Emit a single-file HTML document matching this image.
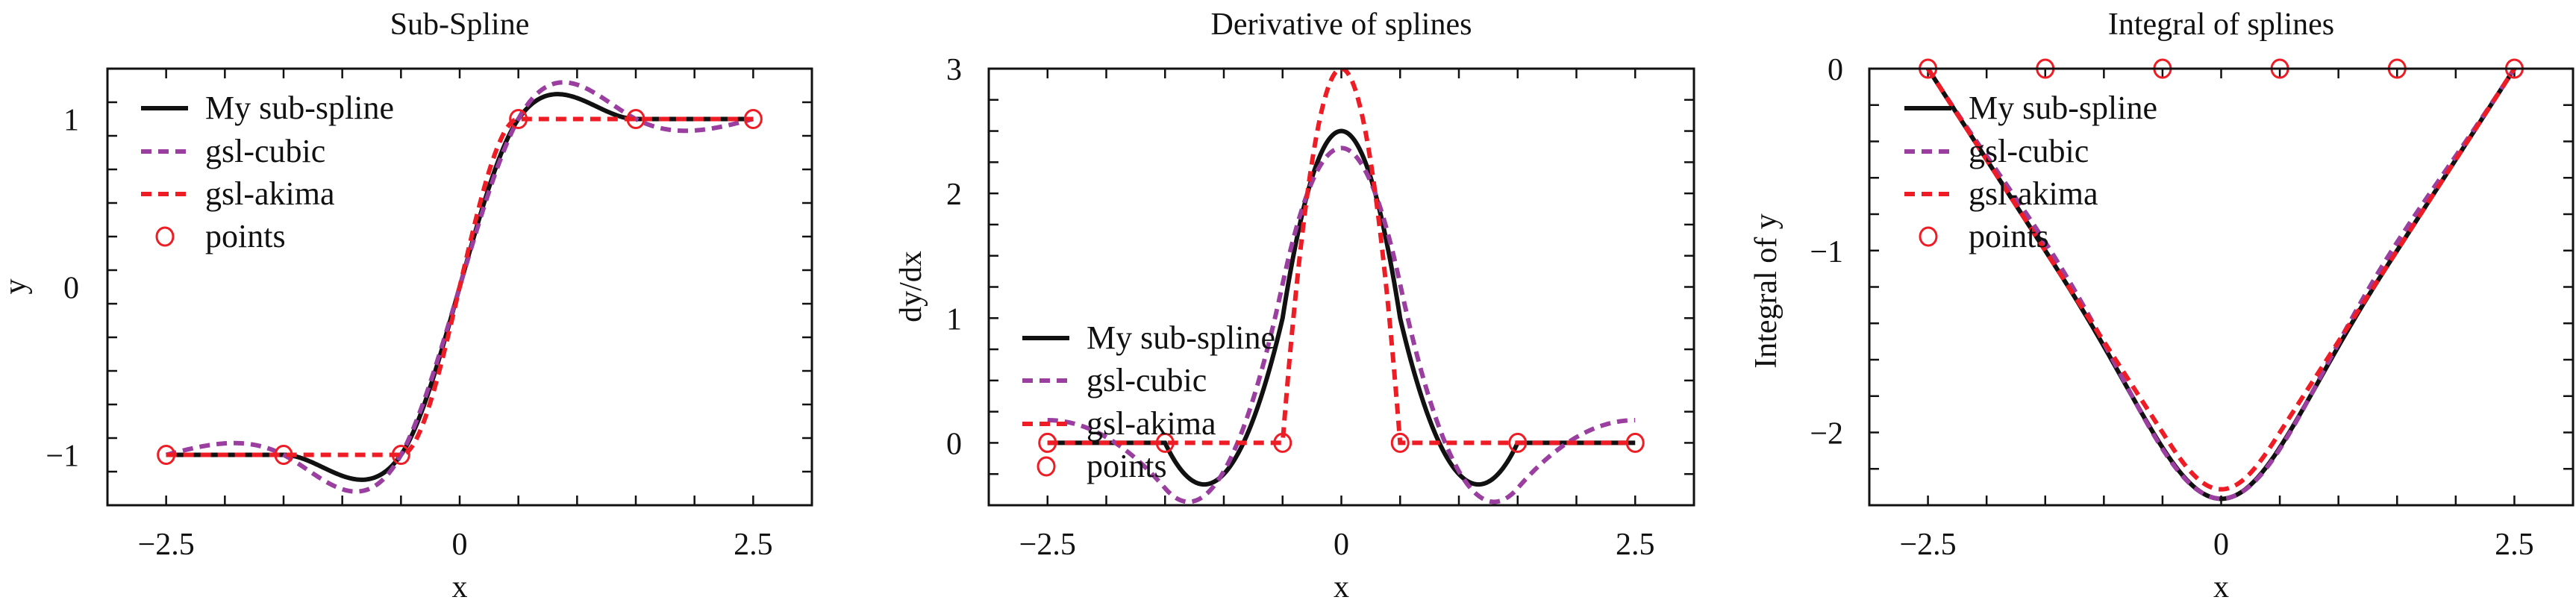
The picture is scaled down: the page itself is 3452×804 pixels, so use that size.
<!DOCTYPE html>
<html><head><meta charset="utf-8"><style>
html,body{margin:0;padding:0;background:#fff;}
svg{display:block;font-family:"Liberation Serif",serif;}
</style></head><body>
<svg id="chart" width="3452" height="804" viewBox="0 0 3452 804" xmlns="http://www.w3.org/2000/svg"></svg>
<script>
// ---- data ----
const knotsX = [-2.5, -1.5, -0.5, 0.5, 1.5, 2.5];
const knotsY = [-1, -1, -1, 1, 1, 1];
const subSplineSlopes = [0, 0, 1, 1, 0, 0];
const seriesNames = ["My sub-spline", "gsl-cubic", "gsl-akima", "points"];
const xTicks = [-2.5, 0, 2.5];
const xTickLabels = ["−2.5", "0", "2.5"];
const yTicks1 = [-1, 0, 1];
const yTickLabels1 = ["−1", "0", "1"];
const yTicks2 = [0, 1, 2, 3];
const yTickLabels2 = ["0", "1", "2", "3"];
const yTicks3 = [-2, -1, 0];
const yTickLabels3 = ["−2", "−1", "0"];

const NS = "http://www.w3.org/2000/svg";
const svg = document.getElementById('chart');
function mk(tag, attrs, parent) {
  const e = document.createElementNS(NS, tag);
  for (const k in attrs) e.setAttribute(k, attrs[k]);
  (parent || svg).appendChild(e);
  return e;
}

function naturalSlopes(X, Y) {
  const n = X.length; const M = new Array(n).fill(0);
  const h = []; for (let i = 0; i < n - 1; i++) h.push(X[i + 1] - X[i]);
  const a = [], b = [], c = [], d = [];
  for (let i = 1; i < n - 1; i++) {
    a.push(h[i - 1]); b.push(2 * (h[i - 1] + h[i])); c.push(h[i]);
    d.push(6 * ((Y[i + 1] - Y[i]) / h[i] - (Y[i] - Y[i - 1]) / h[i - 1]));
  }
  const m = b.length;
  for (let i = 1; i < m; i++) { const w = a[i] / b[i - 1]; b[i] -= w * c[i - 1]; d[i] -= w * d[i - 1]; }
  const sol = new Array(m);
  for (let i = m - 1; i >= 0; i--) sol[i] = (d[i] - (i < m - 1 ? c[i] * sol[i + 1] : 0)) / b[i];
  for (let i = 0; i < m; i++) M[i + 1] = sol[i];
  const s = [];
  for (let i = 0; i < n; i++) {
    if (i < n - 1) s.push((Y[i + 1] - Y[i]) / h[i] - h[i] * (2 * M[i] + M[i + 1]) / 6);
    else s.push((Y[i] - Y[i - 1]) / h[i - 1] + h[i - 1] * (M[i - 1] + 2 * M[i]) / 6);
  }
  return s;
}
function akimaSlopes(X, Y) {
  const n = X.length; const m = {};
  for (let i = 0; i < n - 1; i++) m[i] = (Y[i + 1] - Y[i]) / (X[i + 1] - X[i]);
  m[-1] = 2 * m[0] - m[1]; m[-2] = 2 * m[-1] - m[0];
  m[n - 1] = 2 * m[n - 2] - m[n - 3]; m[n] = 2 * m[n - 1] - m[n - 2];
  const s = [];
  for (let i = 0; i < n; i++) {
    const w1 = Math.abs(m[i + 1] - m[i]), w2 = Math.abs(m[i - 1] - m[i - 2]);
    s.push(w1 + w2 === 0 ? 0.5 * (m[i - 1] + m[i]) : (w1 * m[i - 1] + w2 * m[i]) / (w1 + w2));
  }
  return s;
}
function seg(X, x) { let i = 0; while (i < X.length - 2 && x > X[i + 1]) i++; return i; }
function hermite(X, Y, S, x) {
  const i = seg(X, x), h = X[i + 1] - X[i], t = (x - X[i]) / h;
  return (2*t*t*t-3*t*t+1)*Y[i] + (t*t*t-2*t*t+t)*h*S[i] + (-2*t*t*t+3*t*t)*Y[i+1] + (t*t*t-t*t)*h*S[i+1];
}
function hermiteD(X, Y, S, x) {
  const i = seg(X, x), h = X[i + 1] - X[i], t = (x - X[i]) / h;
  return (6*t*t-6*t)*(Y[i]-Y[i+1])/h + (3*t*t-4*t+1)*S[i] + (3*t*t-2*t)*S[i+1];
}
function segInt(X, Y, S, i, t) {
  const h = X[i + 1] - X[i];
  return h * (Y[i]*(t - t*t*t + t*t*t*t/2) + h*S[i]*(t*t/2 - 2*t*t*t/3 + t*t*t*t/4)
    + Y[i+1]*(t*t*t - t*t*t*t/2) + h*S[i+1]*(t*t*t*t/4 - t*t*t/3));
}
function hermiteI(X, Y, S, x) {
  const i = seg(X, x); let acc = 0;
  for (let k = 0; k < i; k++) acc += segInt(X, Y, S, k, 1);
  return acc + segInt(X, Y, S, i, (x - X[i]) / (X[i + 1] - X[i]));
}

const slopeSets = [subSplineSlopes, naturalSlopes(knotsX, knotsY), akimaSlopes(knotsX, knotsY)];
const styles = [
  {stroke: "#111", dash: null, w: 6},
  {stroke: "#9a3fa0", dash: "14,9", w: 6},
  {stroke: "#ee1c25", dash: "14,9", w: 6}
];

const panels = [
  {name: "sub-spline", title: "Sub-Spline", x0: 144, x1: 1088, y0: 92, y1: 677, ymin: -1.3, ymax: 1.3,
   yTicks: yTicks1, yLabels: yTickLabels1, yMinor: 0.2, ylab: "y", ylabX: 22, ylabY: 384, tickRight: 106,
   fn: hermite, pointsY: knotsY, legX: 189, legY: [145, 203, 260, 317]},
  {name: "derivative", title: "Derivative of splines", x0: 1325, x1: 2270, y0: 92, y1: 677, ymin: -0.5, ymax: 3,
   yTicks: yTicks2, yLabels: yTickLabels2, yMinor: 0.25, ylab: "dy/dx", ylabX: 1222, ylabY: 384, tickRight: 1289,
   fn: hermiteD, pointsY: knotsX.map(() => 0), legX: 1370, legY: [453, 510, 568, 625]},
  {name: "integral", title: "Integral of splines", x0: 2505, x1: 3448, y0: 92, y1: 677, ymin: -2.4, ymax: 0,
   yTicks: yTicks3, yLabels: yTickLabels3, yMinor: 0.2, ylab: "Integral of y", ylabX: 2368, ylabY: 390, tickRight: 2470,
   fn: hermiteI, pointsY: knotsX.map(() => 0), legX: 2552, legY: [145, 203, 260, 317]}
];

panels.forEach(p => {
  const g = mk('g', {});
  
  
  const sx = v => p.x0 + (v - (-3)) / 6 * (p.x1 - p.x0);
  const sy = v => p.y1 - (v - p.ymin) / (p.ymax - p.ymin) * (p.y1 - p.y0);
  const cx = (p.x0 + p.x1) / 2;
  const t = mk('text', {x: cx, y: 46, 'font-size': 42, 'text-anchor': 'middle', fill: '#111'}, g);
  t.textContent = p.title;
  
  
  const tk = mk('g', {stroke: '#111', 'stroke-width': 2.5}, g);
  for (let v = -3; v <= 3.001; v += 0.5) {
    const x = sx(v), L = 13;
    mk('line', {x1: x, y1: p.y1, x2: x, y2: p.y1 - L}, tk);
    mk('line', {x1: x, y1: p.y0, x2: x, y2: p.y0 + L}, tk);
  }
  for (let v = p.ymin; v <= p.ymax + 1e-6; v += p.yMinor) {
    const y = sy(v);
    mk('line', {x1: p.x0, y1: y, x2: p.x0 + 13, y2: y}, tk);
    mk('line', {x1: p.x1, y1: y, x2: p.x1 - 13, y2: y}, tk);
  }
  xTicks.forEach((v, i) => {
    const e = mk('text', {x: sx(v), y: 743, 'font-size': 42, 'text-anchor': 'middle', fill: '#111'}, g);
    e.textContent = xTickLabels[i];
    
    
  });
  p.yTicks.forEach((v, i) => {
    const e = mk('text', {x: p.tickRight, y: sy(v) + 15, 'font-size': 42, 'text-anchor': 'end', fill: '#111'}, g);
    e.textContent = p.yLabels[i];
    
    
  });
  const xl = mk('text', {x: cx, y: 800, 'font-size': 42, 'text-anchor': 'middle', fill: '#111'}, g);
  xl.textContent = 'x';
  
  
  const yl = mk('text', {x: 0, y: 0, 'font-size': 42, 'text-anchor': 'middle', fill: '#111',
    transform: `translate(${p.ylabX + 12},${p.ylabY}) rotate(-90)`}, g);
  yl.textContent = p.ylab;
  
  
  const clip = mk('clipPath', {id: 'clip-' + p.name}, g);
  mk('rect', {x: p.x0, y: p.y0, width: p.x1 - p.x0, height: p.y1 - p.y0}, clip);
  slopeSets.forEach((S, k) => {
    let d = '';
    const N = 400;
    for (let j = 0; j <= N; j++) {
      const x = knotsX[0] + (knotsX[knotsX.length - 1] - knotsX[0]) * j / N;
      const y = p.fn(knotsX, knotsY, S, x);
      d += (j ? 'L' : 'M') + sx(x).toFixed(2) + ',' + sy(y).toFixed(2);
    }
    const st = styles[k];
    const path = mk('path', {d: d, fill: 'none', stroke: st.stroke, 'stroke-width': st.w, 'clip-path': `url(#clip-${p.name})`}, g);
    if (st.dash) path.setAttribute('stroke-dasharray', st.dash);
    
    
  });
  knotsX.forEach((xv, i) => {
    const c = mk('ellipse', {cx: sx(xv), cy: sy(p.pointsY[i]), rx: 11, ry: 12, fill: 'none', stroke: '#ee1c25', 'stroke-width': 3}, g);
    
    
  });
  const fr = mk('rect', {x: p.x0, y: p.y0, width: p.x1 - p.x0, height: p.y1 - p.y0, fill: 'none', stroke: '#111', 'stroke-width': 3}, g);
  
  
  const lg = mk('g', {}, g);
  
  
  seriesNames.forEach((nm, k) => {
    const y = p.legY[k];
    const ent = mk('g', {}, lg);
    
    
    if (k < 3) {
      const ln = mk('line', {x1: p.legX, y1: y, x2: p.legX + 63, y2: y, stroke: styles[k].stroke, 'stroke-width': 6}, ent);
      if (styles[k].dash) ln.setAttribute('stroke-dasharray', styles[k].dash);
    } else {
      mk('ellipse', {cx: p.legX + 32, cy: y, rx: 11, ry: 12, fill: 'none', stroke: '#ee1c25', 'stroke-width': 3}, ent);
    }
    const tx = mk('text', {x: p.legX + 86, y: y + 14, 'font-size': 44, fill: '#111'}, ent);
    tx.textContent = nm;
  });
});
</script>
</body></html>
